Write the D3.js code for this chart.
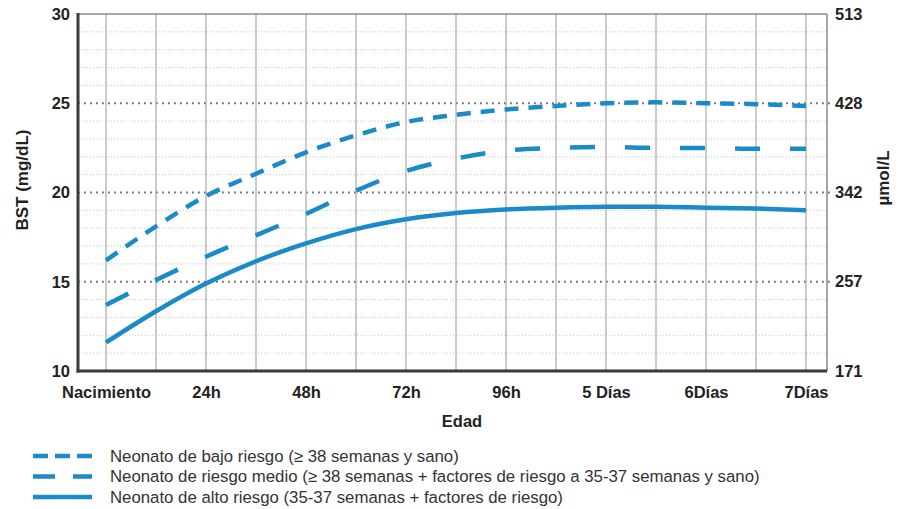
<!DOCTYPE html>
<html>
<head>
<meta charset="utf-8">
<script src="https://cdn.jsdelivr.net/npm/d3@7"></script>
<style>
  body { margin: 0; background: #fff; }
  .tick text { font-family: "Liberation Sans", sans-serif; font-weight: bold; font-size: 16.5px; fill: #222; }
  .title { font-family: "Liberation Sans", sans-serif; font-weight: bold; fill: #222; }
  .legend text { font-family: "Liberation Sans", sans-serif; font-size: 16.8px; fill: #333; }
</style>
</head>
<body>
<div id="chart"></div>
<script>
// days since birth (0 = Nacimiento), every half day
var days = [0, 0.5, 1, 1.5, 2, 2.5, 3, 3.5, 4, 4.5, 5, 5.5, 6, 6.5, 7];
// bilirubin (mg/dL)
var bajoRiesgo = [16.2, 18.1, 19.8, 21.05, 22.25, 23.2, 23.95, 24.35, 24.65, 24.85, 25.0, 25.05, 25.0, 24.95, 24.85];
var riesgoMedio = [13.7, 15.1, 16.4, 17.6, 18.8, 20.1, 21.2, 21.9, 22.35, 22.5, 22.55, 22.5, 22.5, 22.45, 22.45];
var altoRiesgo = [11.6, 13.35, 14.9, 16.15, 17.15, 17.95, 18.5, 18.85, 19.05, 19.15, 19.2, 19.2, 19.15, 19.1, 19.0];

var xTickLabels = ["Nacimiento", "24h", "48h", "72h", "96h", "5 Días", "6Días", "7Días"];
var yTicks = [10, 15, 20, 25, 30];
var yTicksRight = [171, 257, 342, 428, 513];
var legendLabels = [
  "Neonato de bajo riesgo (≥ 38 semanas y sano)",
  "Neonato de riesgo medio (≥ 38 semanas + factores de riesgo a 35-37 semanas y sano)",
  "Neonato de alto riesgo (35-37 semanas + factores de riesgo)"
];

var blue = "#1a8ac8";
var dashes = ["14,10", "25,30", null];
var series = [bajoRiesgo, riesgoMedio, altoRiesgo];

var W = 902, H = 509;
var mLeft = 78, mRight = 827, mTop = 14, mBottom = 371;

var svg = d3.select("#chart").append("svg")
  .attr("width", W)
  .attr("height", H);

// x: days, plot box starts a bit before birth
var x = d3.scaleLinear().domain([-0.28, 7.21]).range([mLeft, mRight]);
var y = d3.scaleLinear().domain([10, 30]).range([mBottom, mTop]);
var yR = d3.scaleLinear().domain([171, 513]).range([mBottom, mTop]);

// minor horizontal grid (every 1 mg/dL)
svg.append("g").selectAll("line")
  .data(d3.range(11, 30).filter(function (v) { return v % 5 != 0; }))
  .enter().append("line")
  .attr("x1", mLeft).attr("x2", mRight)
  .attr("y1", function (d) { return y(d); })
  .attr("y2", function (d) { return y(d); })
  .attr("stroke", "#c4c4c4")
  .attr("stroke-width", 1)
  .attr("stroke-dasharray", "1,2");

// major horizontal grid
svg.append("g").selectAll("line")
  .data([15, 20, 25])
  .enter().append("line")
  .attr("x1", mLeft).attr("x2", mRight + 3)
  .attr("y1", function (d) { return y(d); })
  .attr("y2", function (d) { return y(d); })
  .attr("stroke", "#6e6e6e")
  .attr("stroke-width", 1.8)
  .attr("stroke-dasharray", "1.8,4.2");

// vertical grid every half day
svg.append("g").selectAll("line")
  .data(d3.range(0, 7.01, 0.5))
  .enter().append("line")
  .attr("x1", function (d) { return x(d); })
  .attr("x2", function (d) { return x(d); })
  .attr("y1", mTop).attr("y2", mBottom)
  .attr("stroke", "#a8a8a8")
  .attr("stroke-width", 1.2);

// frame: top and right thin gray
svg.append("line").attr("x1", mLeft).attr("x2", mRight).attr("y1", mTop).attr("y2", mTop)
  .attr("stroke", "#8a8a8a").attr("stroke-width", 1.5);
svg.append("line").attr("x1", mRight).attr("x2", mRight).attr("y1", mTop).attr("y2", mBottom)
  .attr("stroke", "#8a8a8a").attr("stroke-width", 1.5);

// curves
var line = d3.line()
  .x(function (d) { return x(d[0]); })
  .y(function (d) { return y(d[1]); })
  .curve(d3.curveMonotoneX);

series.forEach(function (s, i) {
  svg.append("path")
    .datum(days.map(function (d, j) { return [d, s[j]]; }))
    .attr("d", line)
    .attr("fill", "none")
    .attr("stroke", blue)
    .attr("stroke-width", 4.5)
    .attr("stroke-dasharray", dashes[i]);
});

// thick left and bottom axis lines
svg.append("line").attr("x1", mLeft).attr("x2", mLeft).attr("y1", mTop - 1).attr("y2", mBottom + 1.5)
  .attr("stroke", "#3a3a3a").attr("stroke-width", 3);
svg.append("line").attr("x1", mLeft - 1.5).attr("x2", mRight).attr("y1", mBottom).attr("y2", mBottom)
  .attr("stroke", "#3a3a3a").attr("stroke-width", 3);

// axes
svg.append("g")
  .attr("transform", "translate(" + mLeft + ",0)")
  .call(d3.axisLeft(y).tickValues(yTicks).tickSize(0).tickPadding(8))
  .call(function (g) { g.select(".domain").remove(); });

svg.append("g")
  .attr("transform", "translate(" + mRight + ",0)")
  .call(d3.axisRight(yR).tickValues(yTicksRight).tickSize(0).tickPadding(8))
  .call(function (g) { g.select(".domain").remove(); });

svg.append("g")
  .attr("transform", "translate(0," + mBottom + ")")
  .call(d3.axisBottom(x).tickValues(d3.range(xTickLabels.length)).tickSize(0).tickPadding(15)
    .tickFormat(function (d) { return xTickLabels[d]; }))
  .call(function (g) { g.select(".domain").remove(); });

// axis titles
svg.append("text")
  .attr("class", "title")
  .attr("transform", "translate(28,180) rotate(-90)")
  .attr("text-anchor", "middle")
  .attr("font-size", "17px")
  .text("BST (mg/dL)");

svg.append("text")
  .attr("class", "title")
  .attr("transform", "translate(889,178) rotate(-90)")
  .attr("text-anchor", "middle")
  .attr("font-size", "17px")
  .text("µmol/L");

svg.append("text")
  .attr("class", "title")
  .attr("x", 462)
  .attr("y", 427)
  .attr("text-anchor", "middle")
  .attr("font-size", "16.5px")
  .text("Edad");

// legend
var legendDash = ["15,7", "22,18", null];
var lg = svg.append("g").attr("class", "legend")
  .selectAll("g")
  .data(legendLabels)
  .enter().append("g")
  .attr("transform", function (d, i) { return "translate(33," + (456 + i * 20.5) + ")"; });

lg.append("line")
  .attr("x1", 0).attr("x2", 59)
  .attr("stroke", blue)
  .attr("stroke-width", 4.5)
  .attr("stroke-dasharray", function (d, i) { return legendDash[i]; });

lg.append("text")
  .attr("x", 77)
  .attr("dy", "0.35em")
  .text(function (d) { return d; });
</script>
</body>
</html>
